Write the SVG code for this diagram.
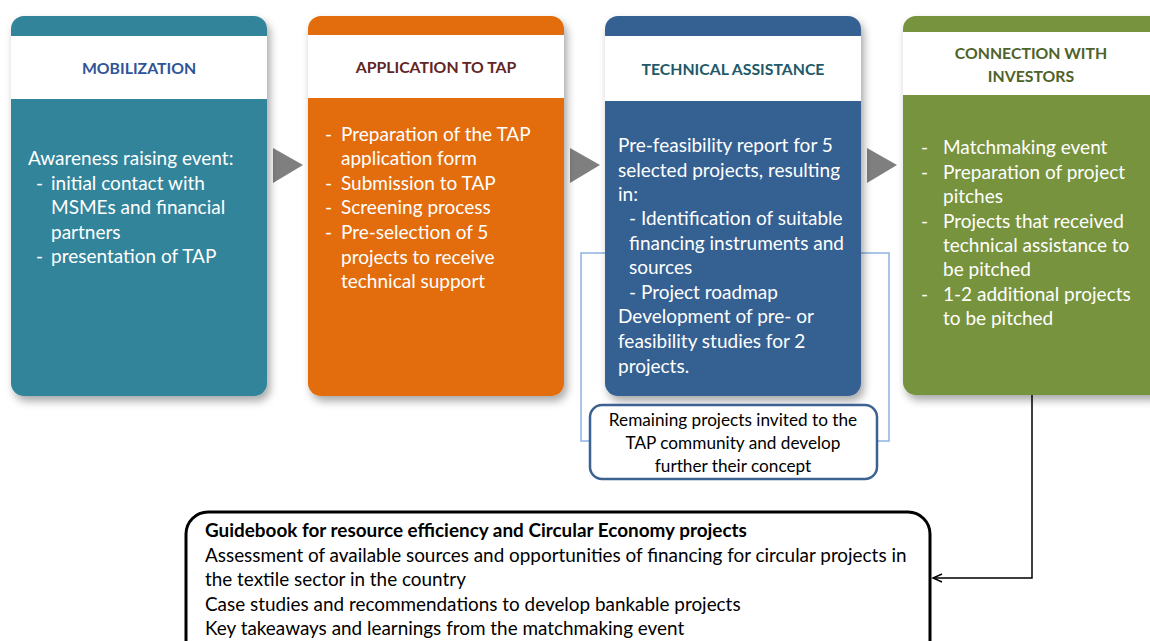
<svg xmlns="http://www.w3.org/2000/svg" width="1150" height="641" viewBox="0 0 1150 641">
<defs>
<filter id="sh" x="-10%" y="-10%" width="130%" height="130%">
<feDropShadow dx="3" dy="5" stdDeviation="4" flood-color="#000" flood-opacity="0.35"/>
</filter>
<marker id="open" markerWidth="12" markerHeight="12" refX="10" refY="5" orient="auto" markerUnits="userSpaceOnUse">
<path d="M1,1 L10,5 L1,9" fill="none" stroke="#000" stroke-width="1.4"/>
</marker>
<style>
text{font-family:Lato,"Liberation Sans",sans-serif}
.body{fill:#fff;font-size:19px}
.hd{font-size:15.8px;font-weight:bold;text-anchor:middle}
.bx{fill:#000;font-size:18.9px}
</style>
</defs>
<rect width="1150" height="641" fill="#fff"/>
<g id="connectors">
<rect x="581" y="253" width="308" height="188" fill="none" stroke="#8DB3E2" stroke-width="1.5"/>
<polygon points="273,148 303,165 273,183" fill="#7F7F7F"/>
<polygon points="570,148 600,165 570,183" fill="#7F7F7F"/>
<polygon points="867,148 897,165 867,183" fill="#7F7F7F"/>
<polyline points="1032,395 1032,578 933,578" fill="none" stroke="#000" stroke-width="1.5" marker-end="url(#open)"/>
</g>
<g id="mobilization">
<rect x="11" y="16" width="256" height="380" rx="13" fill="#31849B" filter="url(#sh)"/>
<rect x="11" y="36" width="256" height="63" fill="#fff"/>
<text class="hd" x="139" y="74" fill="#2F5496">MOBILIZATION</text>
<text class="body" x="28" y="165">Awareness raising event:</text>
<text class="body"><tspan x="36" y="190">-</tspan><tspan x="51" y="190">initial contact with</tspan><tspan x="51" y="214">MSMEs and financial</tspan><tspan x="51" y="239">partners</tspan><tspan x="36" y="263">-</tspan><tspan x="51" y="263">presentation of TAP</tspan></text>
</g>
<g id="application">
<rect x="308" y="16" width="256" height="380" rx="13" fill="#E36C09" filter="url(#sh)"/>
<rect x="308" y="35" width="256" height="63" fill="#fff"/>
<text class="hd" x="436" y="73" fill="#632523">APPLICATION TO TAP</text>
<text class="body"><tspan x="325" y="141">-</tspan><tspan x="341" y="141">Preparation of the TAP</tspan><tspan x="341" y="165">application form</tspan><tspan x="325" y="190">-</tspan><tspan x="341" y="190">Submission to TAP</tspan><tspan x="325" y="214">-</tspan><tspan x="341" y="214">Screening process</tspan><tspan x="325" y="239">-</tspan><tspan x="341" y="239">Pre-selection of 5</tspan><tspan x="341" y="264">projects to receive</tspan><tspan x="341" y="288">technical support</tspan></text>
</g>
<g id="technical">
<rect x="605" y="16" width="256" height="380" rx="13" fill="#366092" filter="url(#sh)"/>
<rect x="605" y="36" width="256" height="65" fill="#fff"/>
<text class="hd" x="733" y="75" fill="#215967">TECHNICAL ASSISTANCE</text>
<text class="body"><tspan x="618" y="152">Pre-feasibility report for 5</tspan><tspan x="618" y="177">selected projects, resulting</tspan><tspan x="618" y="201">in:</tspan><tspan x="629" y="225">- Identification of suitable</tspan><tspan x="629" y="250">financing instruments and</tspan><tspan x="629" y="274">sources</tspan><tspan x="629" y="299">- Project roadmap</tspan><tspan x="618" y="323">Development of pre- or</tspan><tspan x="618" y="348">feasibility studies for 2</tspan><tspan x="618" y="373">projects.</tspan></text>
</g>
<g id="connection">
<rect x="903" y="16" width="262" height="379" rx="13" fill="#77933C" filter="url(#sh)"/>
<rect x="903" y="32" width="262" height="63" fill="#fff"/>
<text class="hd" fill="#4F6228"><tspan x="1031" y="59">CONNECTION WITH</tspan><tspan x="1031" y="82">INVESTORS</tspan></text>
<text class="body"><tspan x="921" y="154">-</tspan><tspan x="943" y="154">Matchmaking event</tspan><tspan x="921" y="179">-</tspan><tspan x="943" y="179">Preparation of project</tspan><tspan x="943" y="203">pitches</tspan><tspan x="921" y="228">-</tspan><tspan x="943" y="228">Projects that received</tspan><tspan x="943" y="252">technical assistance to</tspan><tspan x="943" y="276">be pitched</tspan><tspan x="921" y="301">-</tspan><tspan x="943" y="301">1-2 additional projects</tspan><tspan x="943" y="325">to be pitched</tspan></text>
</g>
<g id="remaining">
<rect x="590" y="405" width="287" height="74" rx="12" fill="#fff" stroke="#3B6290" stroke-width="2.5"/>
<text style="font-size:17.2px;text-anchor:middle;fill:#000"><tspan x="733" y="426">Remaining projects invited to the</tspan><tspan x="733" y="449">TAP community and develop</tspan><tspan x="733" y="472">further their concept</tspan></text>
</g>
<g id="guidebook">
<rect x="186" y="512" width="744" height="150" rx="22" fill="#fff" stroke="#000" stroke-width="3"/>
<text class="bx"><tspan x="205" y="537" font-weight="bold">Guidebook for resource efficiency and Circular Economy projects</tspan><tspan x="205" y="562">Assessment of available sources and opportunities of financing for circular projects in</tspan><tspan x="205" y="586">the textile sector in the country</tspan><tspan x="205" y="611">Case studies and recommendations to develop bankable projects</tspan><tspan x="205" y="635">Key takeaways and learnings from the matchmaking event</tspan></text>
</g>
</svg>
